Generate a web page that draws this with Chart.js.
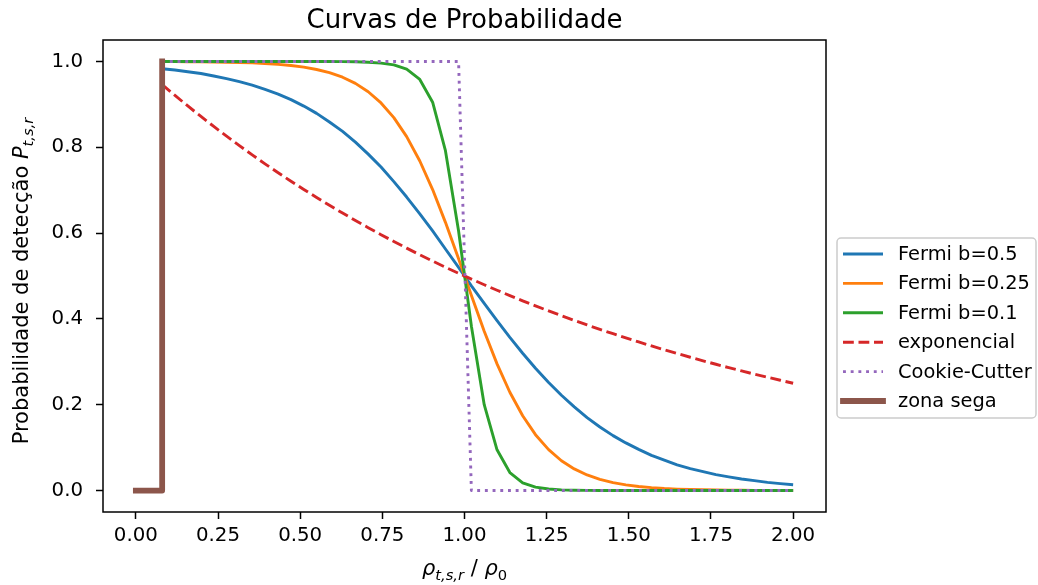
<!DOCTYPE html>
<html>
<head>
<meta charset="utf-8">
<script src="https://cdn.jsdelivr.net/npm/chart.js@4.4.1/dist/chart.umd.min.js"></script>
<style>
  html, body { margin: 0; padding: 0; background: #fff; }
  canvas { display: block; }
</style>
</head>
<body>
<canvas id="chart" width="1038" height="585"></canvas>
<script>
// sample positions rho / rho0
const xVals = [0.08, 0.119, 0.158, 0.198, 0.237, 0.276, 0.315, 0.354, 0.393, 0.433,
  0.472, 0.511, 0.55, 0.589, 0.629, 0.668, 0.707, 0.746, 0.785, 0.824,
  0.864, 0.903, 0.942, 0.982, 1.021, 1.06, 1.099, 1.138, 1.177, 1.216,
  1.256, 1.295, 1.334, 1.373, 1.412, 1.452, 1.491, 1.53, 1.569, 1.608,
  1.647, 1.687, 1.726, 1.765, 1.804, 1.843, 1.882, 1.922, 1.961, 2.0];

const fermi05 = [0.983, 0.980, 0.976, 0.972, 0.966, 0.960, 0.953, 0.945, 0.935, 0.924,
  0.911, 0.896, 0.879, 0.859, 0.837, 0.812, 0.784, 0.754, 0.720, 0.684,
  0.645, 0.605, 0.563, 0.520, 0.477, 0.436, 0.396, 0.357, 0.320, 0.285,
  0.252, 0.222, 0.195, 0.170, 0.148, 0.128, 0.111, 0.096, 0.082, 0.071,
  0.060, 0.051, 0.044, 0.037, 0.032, 0.027, 0.023, 0.019, 0.016, 0.0135];

const fermi025 = [0.9997, 0.9996, 0.9994, 0.9991, 0.9988, 0.9983, 0.9976, 0.9966, 0.9952, 0.9932,
  0.9905, 0.9867, 0.9813, 0.9738, 0.9632, 0.9489, 0.9294, 0.9033, 0.869, 0.8247,
  0.768, 0.7014, 0.625, 0.5404, 0.4544, 0.3712, 0.2952, 0.2291, 0.1742, 0.1302,
  0.0953, 0.0695, 0.0504, 0.0363, 0.026, 0.0184, 0.0132, 0.0094, 0.0067, 0.0047,
  0.0034, 0.0024, 0.0017, 0.0012, 0.0008, 0.0006, 0.0004, 0.0003, 0.0002, 0.00015];

const fermi01 = [1, 1, 1, 1, 1, 1, 1, 1, 1, 1,
  1, 1, 0.9999, 0.9998, 0.9996, 0.9993, 0.998, 0.996, 0.992, 0.982,
  0.958, 0.905, 0.792, 0.605, 0.383, 0.200, 0.095, 0.042, 0.018, 0.008,
  0.0035, 0.0015, 0.0006, 0.0003, 0.0001, 0.0001, 0.0001, 0.0001, 0.0001, 0.0001,
  0.0001, 0.0001, 0.0001, 0.0001, 0.0001, 0.0001, 0.0001, 0.0001, 0.0001, 0.0001];

const expo = [0.946, 0.9208, 0.8962, 0.8718, 0.8485, 0.8259, 0.8038, 0.7823, 0.7614, 0.7408,
  0.7208, 0.7016, 0.683, 0.6648, 0.6467, 0.6294, 0.6126, 0.5963, 0.5804, 0.5649,
  0.5495, 0.5348, 0.5205, 0.5063, 0.4928, 0.4796, 0.4668, 0.4544, 0.4422, 0.4304,
  0.4187, 0.4075, 0.3966, 0.386, 0.3757, 0.3655, 0.3557, 0.3463, 0.337, 0.328,
  0.3193, 0.3106, 0.3023, 0.2943, 0.2864, 0.2788, 0.2713, 0.264, 0.257, 0.25];

const cookie = [1, 1, 1, 1, 1, 1, 1, 1, 1, 1,
  1, 1, 1, 1, 1, 1, 1, 1, 1, 1,
  1, 1, 1, 1, 0, 0, 0, 0, 0, 0,
  0, 0, 0, 0, 0, 0, 0, 0, 0, 0,
  0, 0, 0, 0, 0, 0, 0, 0, 0, 0];

const segaX = [0, 0.08, 0.08];
const segaY = [0, 0, 1];

const xTicks = [0, 0.25, 0.5, 0.75, 1.0, 1.25, 1.5, 1.75, 2.0];
const yTicks = [0, 0.2, 0.4, 0.6, 0.8, 1.0];

const labels = ['Fermi b=0.5', 'Fermi b=0.25', 'Fermi b=0.1', 'exponencial', 'Cookie-Cutter', 'zona sega'];
const colors = ['#1f77b4', '#ff7f0e', '#2ca02c', '#d62728', '#9467bd', '#8c564b'];

const FONT = "'DejaVu Sans', sans-serif";
const LW = 2.9;

function pts(xs, ys) {
  return xs.map(function (x, i) { return { x: x, y: ys[i] }; });
}

function series(i, xs, ys, extra) {
  return Object.assign({
    label: labels[i],
    data: pts(xs, ys),
    borderColor: colors[i],
    borderWidth: LW,
    pointRadius: 0,
    tension: 0,
    fill: false,
    borderJoinStyle: 'round',
    order: 6 - i
  }, extra || {});
}

// mathtext-like rendering: [text, italic, sub]
function segWidth(ctx, segs, size) {
  var w = 0;
  segs.forEach(function (s) {
    var fs = s[2] ? size * 0.7 : size;
    ctx.font = (s[1] ? 'oblique ' : '') + fs + 'px ' + FONT;
    w += ctx.measureText(s[0]).width;
  });
  return w;
}
function drawSegs(ctx, segs, x, y, size) {
  segs.forEach(function (s) {
    var fs = s[2] ? size * 0.7 : size;
    ctx.font = (s[1] ? 'oblique ' : '') + fs + 'px ' + FONT;
    ctx.fillText(s[0], x, y + (s[2] ? size * 0.22 : 0));
    x += ctx.measureText(s[0]).width;
  });
}

const decor = {
  id: 'decor',
  afterDraw: function (chart) {
    var ctx = chart.ctx, a = chart.chartArea;
    ctx.save();
    // spines
    ctx.strokeStyle = '#000';
    ctx.lineWidth = 1.5;
    ctx.strokeRect(a.left, a.top, a.right - a.left, a.bottom - a.top);

    ctx.fillStyle = '#000';
    ctx.textBaseline = 'alphabetic';
    // title
    ctx.font = '26px ' + FONT;
    ctx.textAlign = 'center';
    ctx.fillText('Curvas de Probabilidade', (a.left + a.right) / 2, 28);

    // x label
    ctx.textAlign = 'left';
    var xl = [['ρ', true, false], ['t,s,r', true, true], [' / ', false, false], ['ρ', true, false], ['0', false, true]];
    var w = segWidth(ctx, xl, 21);
    drawSegs(ctx, xl, (a.left + a.right) / 2 - w / 2, 575, 21);

    // y label
    var yl = [['Probabilidade de detecção ', false, false], ['P', true, false], ['t,s,r', true, true]];
    w = segWidth(ctx, yl, 21);
    ctx.translate(28, 281);
    ctx.rotate(-Math.PI / 2);
    drawSegs(ctx, yl, -w / 2, 0, 21);
    ctx.restore();

    // legend
    ctx.save();
    var lx = a.right + 11, ly = 238, lw = 199, lh = 180;
    ctx.fillStyle = 'rgba(255,255,255,0.8)';
    ctx.strokeStyle = '#cccccc';
    ctx.lineWidth = 1.5;
    ctx.beginPath();
    ctx.roundRect(lx, ly, lw, lh, 4);
    ctx.fill();
    ctx.stroke();
    ctx.font = '19.4px ' + FONT;
    ctx.textAlign = 'left';
    ctx.textBaseline = 'middle';
    chart.data.datasets.forEach(function (ds, i) {
      var cy = ly + 16 + i * 29.4;
      ctx.beginPath();
      ctx.strokeStyle = ds.borderColor;
      ctx.lineWidth = ds.borderWidth;
      ctx.lineCap = ds.borderCapStyle === 'square' ? 'square' : 'butt';
      ctx.setLineDash(ds.borderDash || []);
      ctx.moveTo(lx + 6, cy);
      ctx.lineTo(lx + 46, cy);
      ctx.stroke();
      ctx.setLineDash([]);
      ctx.fillStyle = '#000';
      ctx.fillText(ds.label, lx + 61, cy + 1);
    });
    ctx.restore();
  }
};

new Chart(document.getElementById('chart'), {
  type: 'line',
  data: {
    datasets: [
      series(0, xVals, fermi05),
      series(1, xVals, fermi025),
      series(2, xVals, fermi01),
      series(3, xVals, expo, { borderDash: [10.8, 4.7] }),
      series(4, xVals, cookie, { borderDash: [2.9, 4.8] }),
      series(5, segaX, segaY, { borderWidth: 5.8, borderCapStyle: 'square' })
    ]
  },
  options: {
    responsive: false,
    animation: false,
    devicePixelRatio: 1,
    layout: { padding: { top: 40, right: 212, left: 0, bottom: 0 } },
    plugins: { legend: { display: false }, tooltip: { enabled: false }, title: { display: false } },
    scales: {
      x: {
        type: 'linear',
        min: -0.1,
        max: 2.1,
        afterBuildTicks: function (s) { s.ticks = xTicks.map(function (v) { return { value: v }; }); },
        afterFit: function (s) { s.height = 73; },
        ticks: {
          autoSkip: false, maxRotation: 0, color: '#000', padding: 5,
          font: { family: FONT, size: 19.8 },
          callback: function (v) { return v.toFixed(2); }
        },
        grid: { drawOnChartArea: false, drawTicks: true, tickLength: 7, tickWidth: 1.5, tickColor: '#000' },
        border: { display: false }
      },
      y: {
        type: 'linear',
        min: -0.05,
        max: 1.05,
        afterBuildTicks: function (s) { s.ticks = yTicks.map(function (v) { return { value: v }; }); },
        afterFit: function (s) { s.width = 103; },
        ticks: {
          color: '#000', padding: 13,
          font: { family: FONT, size: 19.8 },
          callback: function (v) { return v.toFixed(1); }
        },
        grid: { drawOnChartArea: false, drawTicks: true, tickLength: 7, tickWidth: 1.5, tickColor: '#000' },
        border: { display: false }
      }
    }
  },
  plugins: [decor]
});
</script>
</body>
</html>
